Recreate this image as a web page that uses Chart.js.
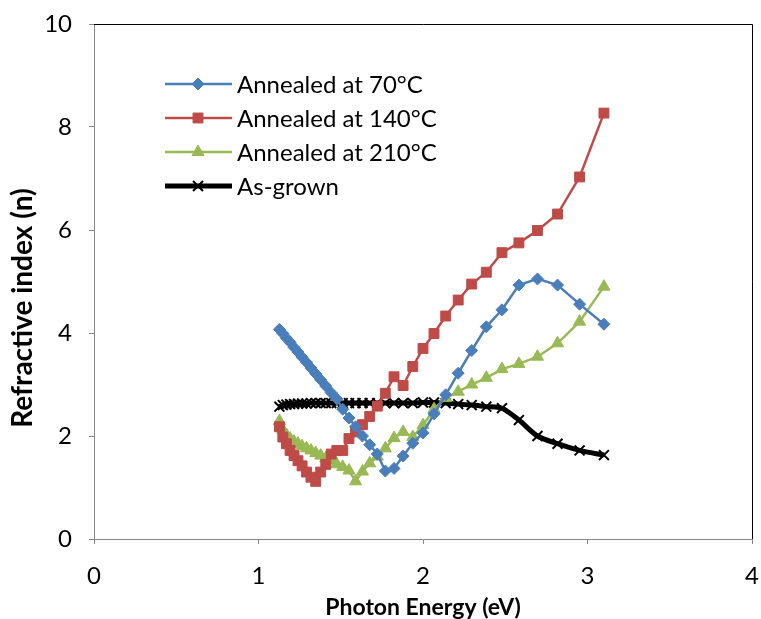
<!DOCTYPE html>
<html>
<head>
<meta charset="utf-8">
<script src="https://cdn.jsdelivr.net/npm/chart.js@4"></script>
<style>
  html, body { margin: 0; padding: 0; background: #fff; }
  #wrap { width: 761px; height: 619px; }
</style>
</head>
<body>
<div id="wrap"><canvas id="nChart" width="761" height="619"></canvas></div>
<script>
// =================== DATA ===================
const energy = [1.127, 1.148, 1.170, 1.192, 1.216, 1.240, 1.265, 1.292, 1.319, 1.348,
  1.378, 1.409, 1.442, 1.476, 1.512, 1.550, 1.590, 1.632, 1.676, 1.722,
  1.771, 1.824, 1.879, 1.938, 2.000, 2.067, 2.138, 2.214, 2.296, 2.385,
  2.480, 2.583, 2.696, 2.818, 2.952, 3.100];

const n70 = [4.07, 3.99, 3.90, 3.82, 3.72, 3.63, 3.53, 3.43, 3.32, 3.21,
  3.09, 2.97, 2.84, 2.72, 2.52, 2.35, 2.18, 2.00, 1.83, 1.65,
  1.32, 1.37, 1.61, 1.86, 2.06, 2.43, 2.80, 3.22, 3.66, 4.12,
  4.45, 4.93, 5.05, 4.93, 4.56, 4.17];

const n140 = [2.18, 1.98, 1.85, 1.72, 1.62, 1.52, 1.42, 1.30, 1.20, 1.12,
  1.30, 1.45, 1.65, 1.72, 1.72, 1.95, 2.08, 2.22, 2.38, 2.58,
  2.83, 3.15, 2.98, 3.35, 3.70, 3.99, 4.33, 4.64, 4.95, 5.18,
  5.56, 5.75, 5.99, 6.31, 7.03, 8.27];

const n210 = [2.29, 2.12, 2.02, 1.95, 1.89, 1.85, 1.80, 1.76, 1.72, 1.67,
  1.62, 1.57, 1.52, 1.45, 1.40, 1.33, 1.12, 1.31, 1.47, 1.60,
  1.76, 1.96, 2.08, 1.98, 2.21, 2.52, 2.74, 2.86, 3.00, 3.13,
  3.30, 3.40, 3.54, 3.80, 4.22, 4.90];

const asGrown = [2.57, 2.60, 2.61, 2.62, 2.62, 2.63, 2.63, 2.63, 2.64, 2.64,
  2.64, 2.64, 2.64, 2.64, 2.64, 2.64, 2.64, 2.64, 2.64, 2.64,
  2.64, 2.64, 2.64, 2.64, 2.65, 2.65, 2.64, 2.62, 2.60, 2.57,
  2.54, 2.31, 2.00, 1.85, 1.72, 1.63];

const xTicks = [0, 1, 2, 3, 4];
const yTicks = [0, 2, 4, 6, 8, 10];

const FONT = "Lato, 'Open Sans', sans-serif";

function toPoints(values) {
  return energy.map((e, i) => ({ x: e, y: values[i] }));
}

// =================== PLUGINS ===================
// legend drawn inside the plot area, like the original
const insideLegend = {
  id: "insideLegend",
  afterDraw(chart) {
    const ctx = chart.ctx;
    ctx.save();
    chart.data.datasets.forEach((ds, i) => {
      const y = 84 + i * 34;
      ctx.strokeStyle = ds.borderColor;
      ctx.lineWidth = ds.borderWidth;
      ctx.beginPath();
      ctx.moveTo(165, y);
      ctx.lineTo(232, y);
      ctx.stroke();
      ctx.fillStyle = ds.borderColor;
      ctx.lineWidth = ds.pointBorderWidth;
      Chart.helpers.drawPoint(ctx, {
        pointStyle: ds.pointStyle,
        radius: ds.pointRadius,
        rotation: 0,
        borderWidth: ds.pointBorderWidth
      }, 198, y);
      ctx.fillStyle = "#000";
      ctx.font = "24px " + FONT;
      ctx.textBaseline = "middle";
      ctx.fillText(ds.label, 237, y + 1);
    });
    ctx.restore();
  }
};

// top/right frame of the plot area + the y axis title (placed like the original)
const frame = {
  id: "frame",
  afterDraw(chart) {
    const a = chart.chartArea;
    const ctx = chart.ctx;
    ctx.save();
    ctx.strokeStyle = "#000";
    ctx.lineWidth = 1;
    ctx.beginPath();
    ctx.moveTo(a.left, a.top + 0.5);
    ctx.lineTo(a.right + 0.5, a.top + 0.5);
    ctx.lineTo(a.right + 0.5, a.bottom);
    ctx.stroke();

    ctx.translate(23, 308);
    ctx.rotate(-Math.PI / 2);
    ctx.fillStyle = "#000";
    ctx.font = "bold 28px " + FONT;
    ctx.textAlign = "center";
    ctx.textBaseline = "middle";
    ctx.fillText("Refractive index (n)", 0, 0);
    ctx.restore();
  }
};

function series(label, values, color, style, radius, width, pbw, tension) {
  return {
    label: label,
    data: toPoints(values),
    showLine: true,
    borderColor: color,
    backgroundColor: color,
    borderWidth: width,
    pointStyle: style,
    pointRadius: radius,
    pointHoverRadius: radius,
    pointBorderWidth: pbw,
    pointBorderColor: color,
    pointBackgroundColor: color,
    tension: tension
  };
}

// =================== CHART ===================
new Chart(document.getElementById("nChart"), {
  type: "scatter",
  data: {
    datasets: [
      series("Annealed at 70°C", n70, "#4a7ebb", "rectRot", 6, 2.5, 1, 0),
      series("Annealed at 140°C", n140, "#be4b48", "rect", 7, 2.5, 1, 0),
      series("Annealed at 210°C", n210, "#98b954", "triangle", 7, 2.5, 1, 0),
      series("As-grown", asGrown, "#000000", "crossRot", 7, 5, 2, 0.3)
    ]
  },
  options: {
    responsive: false,
    animation: false,
    layout: { padding: { top: 24, right: 5, left: 0, bottom: 0 } },
    scales: {
      x: {
        type: "linear",
        min: 0,
        max: 4,
        afterFit: s => { s.height = 80; s.paddingRight = 0; s.paddingLeft = 0; },
        afterBuildTicks: s => { s.ticks = xTicks.map(v => ({ value: v })); },
        grid: { display: true, drawOnChartArea: false, drawTicks: true, tickLength: 5, color: "#868686" },
        border: { color: "#868686", width: 1 },
        ticks: { color: "#000", font: { family: FONT, size: 24 }, padding: 18 },
        title: {
          display: true,
          text: "Photon Energy (eV)",
          color: "#000",
          font: { family: FONT, size: 23, weight: "bold", lineHeight: 1 },
          padding: { top: 0, bottom: 0 }
        }
      },
      y: {
        type: "linear",
        min: 0,
        max: 10,
        afterFit: s => { s.width = 94; s.paddingTop = 0; s.paddingBottom = 0; },
        afterBuildTicks: s => { s.ticks = yTicks.map(v => ({ value: v })); },
        grid: { display: true, drawOnChartArea: false, drawTicks: true, tickLength: 5, color: "#868686" },
        border: { color: "#868686", width: 1 },
        ticks: { color: "#000", font: { family: FONT, size: 24 }, padding: 17 },
        title: { display: false }
      }
    },
    plugins: {
      legend: { display: false },
      tooltip: { enabled: false }
    }
  },
  plugins: [insideLegend, frame]
});
</script>
</body>
</html>
